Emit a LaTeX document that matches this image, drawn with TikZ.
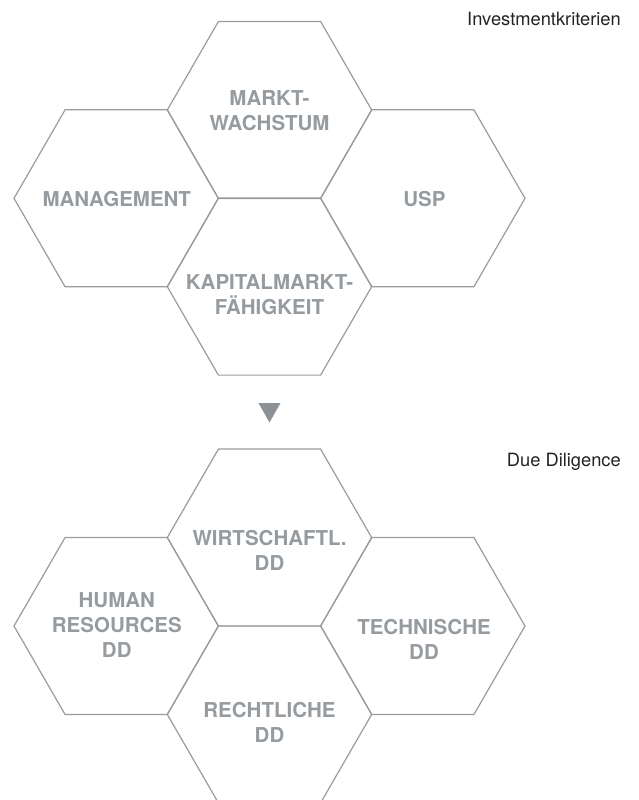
\documentclass[tikz,border=0pt]{standalone}
\usepackage{fontspec}
\setmainfont{TeX Gyre Heros}

\definecolor{HexLine}{HTML}{979CA1}
\definecolor{HexText}{HTML}{969BA0}
\definecolor{Arrow}{HTML}{8C9196}
\definecolor{Title}{HTML}{222222}

\tikzset{
  hexline/.style={draw=HexLine, line width=1.2pt, line join=miter},
  hexlabel/.style={text=HexText, align=center, inner sep=0pt,
    font=\bfseries\fontsize{20.5}{25}\selectfont},
  grouptitle/.style={text=Title, inner sep=0pt, anchor=base east,
    font=\fontsize{18.3}{22}\selectfont}
}

\begin{document}
\begin{tikzpicture}[x=1pt, y=-1pt]

 \useasboundingbox (0,0) rectangle (638,800);
 \def\R{102.2}

 %%%%%%%%%% Centres des hexagones %%%%%%%%%%
 \coordinate (mw) at (269.5,110.0);
 \coordinate (mg) at (116.2,198.3);
 \coordinate (usp) at (422.8,198.3);
 \coordinate (kf) at (269.5,286.6);

 \coordinate (wd) at (269.5,537.6);
 \coordinate (hr) at (116.2,626.0);
 \coordinate (td) at (422.8,626.0);
 \coordinate (rd) at (269.5,714.4);

 %%%%%%%%%% Hexagones %%%%%%%%%%
 \begin{scope}
  \clip (0,0) rectangle (638,800);
  \foreach \c in {mw,mg,usp,kf,wd,hr,td,rd}
   \draw [hexline] (\c) ++(0:\R) -- ++(120:\R) -- ++(180:\R) -- ++(240:\R) -- ++(300:\R) -- ++(0:\R) -- cycle ;
 \end{scope}

 %%%%%%%%%% Investmentkriterien %%%%%%%%%%
 \node [grouptitle] (ik) at (621,26) {Investmentkriterien};
 \node [hexlabel] (mwt) at (269.5,110.5) {MARKT-\\WACHSTUM};
 \node [hexlabel] (mgt) at (116.8,199.0) {MANAGEMENT};
 \node [hexlabel] (uspt) at (424.5,199.0) {USP};
 \node [hexlabel] (kft) at (269.5,295.0) {KAPITALMARKT-\\FÄHIGKEIT};

 %%%%%%%%%% Fleche %%%%%%%%%%
 \fill [Arrow] (258.5,403.0) -- (280.5,403.0) -- (269.5,422.5) -- cycle ;

 %%%%%%%%%% Due Diligence %%%%%%%%%%
 \node [grouptitle] (dd) at (621,466) {Due Diligence};
 \node [hexlabel] (wdt) at (269.5,550.0) {WIRTSCHAFTL.\\DD};
 \node [hexlabel] (hrt) at (116.8,625.0) {HUMAN\\RESOURCES\\DD};
 \node [hexlabel] (tdt) at (424.0,639.5) {TECHNISCHE\\DD};
 \node [hexlabel] (rdt) at (269.5,722.5) {RECHTLICHE\\DD};

\end{tikzpicture}
\end{document}
